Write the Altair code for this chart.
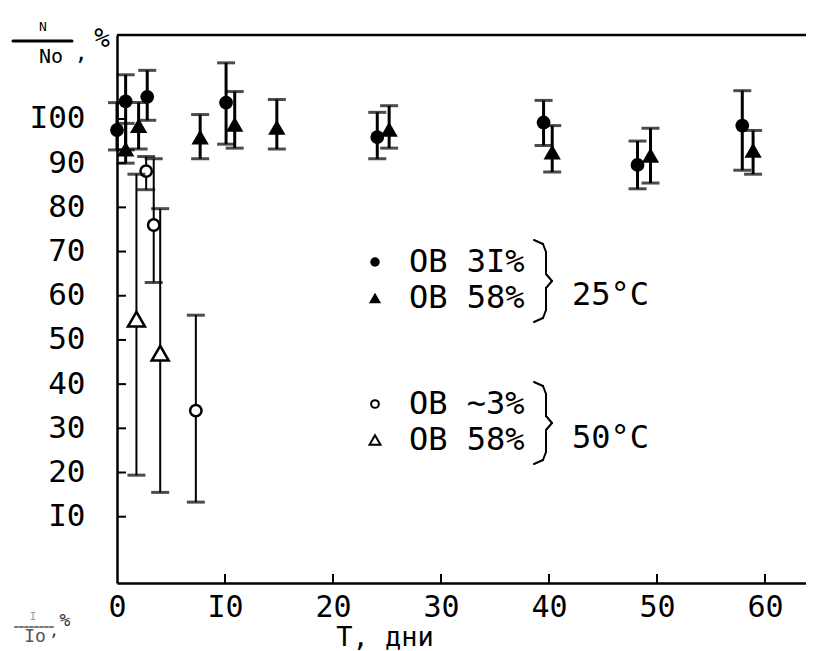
import altair as alt
import pandas as pd

# ---- data ----
# 25 C, relative humidity 31% (filled circles)
c31_t = [0, 0.8, 2.8, 10.1, 24.1, 39.5, 48.2, 57.9]
c31_y = [97.5, 104, 105, 103.7, 95.9, 99.2, 89.6, 98.5]
c31_lo = [93.0, 93.0, 99.7, 94.3, 91.0, 94.0, 84.2, 88.4]
c31_hi = [103.7, 110, 111, 112.7, 101.5, 104.2, 95.0, 106.4]

# 25 C, relative humidity 58% (filled triangles)
t58_t = [0.8, 2.0, 7.7, 10.9, 14.8, 25.2, 40.3, 49.4, 58.9]
t58_y = [93.2, 98.5, 95.9, 98.8, 98.1, 97.7, 92.5, 91.8, 92.9]
t58_lo = [90.0, 93.2, 91.0, 93.4, 93.2, 93.4, 88.0, 85.5, 87.5]
t58_hi = [99.0, 103.7, 101.0, 106.2, 104.4, 103.0, 98.5, 97.9, 97.4]

# 50 C, relative humidity ~3% (open circles)
o3_t = [2.7, 3.4, 7.3]
o3_y = [88.2, 76.0, 34.0]
o3_lo = [84.0, 63.0, 13.3]
o3_hi = [91.5, 91.0, 55.6]

# 50 C, relative humidity 58% (open triangles)
ot58_t = [1.8, 4.0]
ot58_y = [54.7, 47.0]
ot58_lo = [19.4, 15.5]
ot58_hi = [87.5, 79.7]

x_ticks = [0, 10, 20, 30, 40, 50, 60]
y_ticks = [10, 20, 30, 40, 50, 60, 70, 80, 90, 100]

W, H = 689, 548
FONT = "DejaVu Sans Mono"

def frame(t, y, lo, hi):
    return pd.DataFrame({"T": t, "v": y, "lo": lo, "hi": hi})

d31 = frame(c31_t, c31_y, c31_lo, c31_hi)
d58 = frame(t58_t, t58_y, t58_lo, t58_hi)
do3 = frame(o3_t, o3_y, o3_lo, o3_hi)
do58 = frame(ot58_t, ot58_y, ot58_lo, ot58_hi)

xs = alt.Scale(domain=[0, 63.8], nice=False, zero=False)
ys = alt.Scale(domain=[-5, 119], nice=False, zero=False)

xaxis = alt.Axis(
    values=x_ticks, title=None, grid=False, tickSize=0, labelPadding=9,
    labelFont=FONT, labelFontSize=30, labelColor="black", labelFlush=False,
    domainColor="black", domainWidth=2.5,
    labelExpr="replace(datum.label, '1', 'I')")
yaxis = alt.Axis(
    values=y_ticks, title=None, grid=False, tickSize=0, labelPadding=32,
    labelFont=FONT, labelFontSize=31, labelColor="black", labelFlush=False,
    domainColor="black", domainWidth=2.5,
    labelExpr="replace(datum.label, '1', 'I')")

def X(field="T"):
    return alt.X(f"{field}:Q", scale=xs, axis=xaxis)

def Y(field):
    return alt.Y(f"{field}:Q", scale=ys, axis=yaxis)


def series(df, shape, filled, size, bar_w):
    base = alt.Chart(df)
    bars = base.mark_rule(color="black", strokeWidth=bar_w).encode(
        x=X(), y=Y("lo"), y2="hi:Q")
    caps = base.transform_fold(["lo", "hi"], as_=["k", "cap"]).mark_tick(
        orient="horizontal", color="black", size=18, thickness=3).encode(
        x=X(), y=Y("cap"))
    if filled:
        pts = base.mark_point(shape=shape, filled=True, color="black",
                              size=size, opacity=1)
    else:
        pts = base.mark_point(shape=shape, filled=True, fill="white",
                              stroke="black", strokeWidth=2.5, size=size,
                              opacity=1)
    pts = pts.encode(x=X(), y=Y("v"))
    return [bars, caps, pts]

layers = []
layers += series(d31, "circle", True, 190, 3)
layers += series(d58, "triangle-up", True, 300, 3)
layers += series(do3, "circle", False, 130, 2)
layers += series(do58, "triangle-up", False, 290, 2)

# inward ticks
xt = alt.Chart(pd.DataFrame({"T": x_ticks[1:]})).mark_rule(
    color="black", strokeWidth=2).encode(
    x=X(), y=alt.value(H), y2=alt.value(H - 9))
yt = alt.Chart(pd.DataFrame({"v": y_ticks})).mark_rule(
    color="black", strokeWidth=2).encode(
    y=Y("v"), x=alt.value(0), x2=alt.value(9))
top = alt.Chart(pd.DataFrame({"a": [0]})).mark_rule(
    color="black", strokeWidth=2.5).encode(
    x=alt.value(0), x2=alt.value(W), y=alt.value(0))
layers += [xt, yt, top]

# annotation helpers (pixel positions relative to the plot area)
def txt(s, x, y, size=31, align="left", color="black", font=FONT, weight="normal"):
    return alt.Chart(pd.DataFrame({"s": [s]})).mark_text(
        align=align, baseline="middle", font=font, fontSize=size,
        color=color, fontWeight=weight).encode(
        text="s:N", x=alt.value(x), y=alt.value(y))

def seg(x1, y1, x2, y2, w=2.5, color="black", dash=None):
    kw = dict(color=color, strokeWidth=w, strokeCap="round")
    if dash:
        kw["strokeDash"] = dash
    return alt.Chart(pd.DataFrame({"a": [0]})).mark_rule(**kw).encode(
        x=alt.value(x1), x2=alt.value(x2), y=alt.value(y1), y2=alt.value(y2))

def brace(x, y0, y1):
    ym = (y0 + y1) / 2
    pts = [(x - 12, y0), (x - 3, y0 + 4), (x, y0 + 12), (x, ym - 7),
           (x + 6, ym), (x, ym + 7), (x, y1 - 12), (x - 3, y1 - 4),
           (x - 12, y1)]
    return [seg(a[0], a[1], b[0], b[1], w=2) for a, b in zip(pts[:-1], pts[1:])]

def legpt(shape, filled, size, x, y):
    if filled:
        m = alt.Chart(pd.DataFrame({"a": [0]})).mark_point(
            shape=shape, filled=True, color="black", size=size, opacity=1)
    else:
        m = alt.Chart(pd.DataFrame({"a": [0]})).mark_point(
            shape=shape, filled=True, fill="white", stroke="black",
            strokeWidth=2, size=size, opacity=1)
    return m.encode(x=alt.value(x), y=alt.value(y))

# y title (top-left)
layers += [
    txt("N", -74, -8, size=13, align="center"),
    seg(-104, 6, -45, 6, w=3),
    txt("Nо", -66, 22, size=20, align="center"),
    txt(",", -36, 18, size=22, align="center"),
    txt("%", -15, 4, size=26, align="center"),
]
# faded label bottom-left
layers += [
    txt("I", -84, 582, size=10, align="center", color="#999999"),
    seg(-102, 592, -62, 592, w=2, color="#777777", dash=[3, 2]),
    txt("Iо", -82, 602, size=18, align="center", color="#555555"),
    txt(",", -63, 596, size=16, align="center", color="#333333"),
    txt("%", -52, 586, size=18, align="center", color="#333333"),
]
# x title
layers += [txt("T, дни", 268, 603, size=27, align="center")]

# legend
LX, TX = 258, 292
layers += [
    legpt("circle", True, 90, LX, 227),
    legpt("triangle-up", True, 150, LX, 263),
    legpt("circle", False, 60, LX, 369),
    legpt("triangle-up", False, 120, LX, 405),
    txt("ОВ 3I%", TX, 227, size=32),
    txt("ОВ 58%", TX, 263, size=32),
    txt("ОВ ~3%", TX, 369, size=32),
    txt("ОВ 58%", TX, 405, size=32),
    txt("25°C", 455, 260, size=32),
    txt("50°C", 455, 403, size=32),
]
layers += brace(429, 205, 287)
layers += brace(429, 347, 429)

chart = alt.layer(*layers).properties(
    width=W, height=H,
    autosize=alt.AutoSizeParams(type="none"),
    padding={"left": 109, "top": 27, "right": 0, "bottom": 68},
    background="white",
).configure_view(stroke=None)

chart.save("out.html", embed_options={"renderer": "svg", "actions": False})
